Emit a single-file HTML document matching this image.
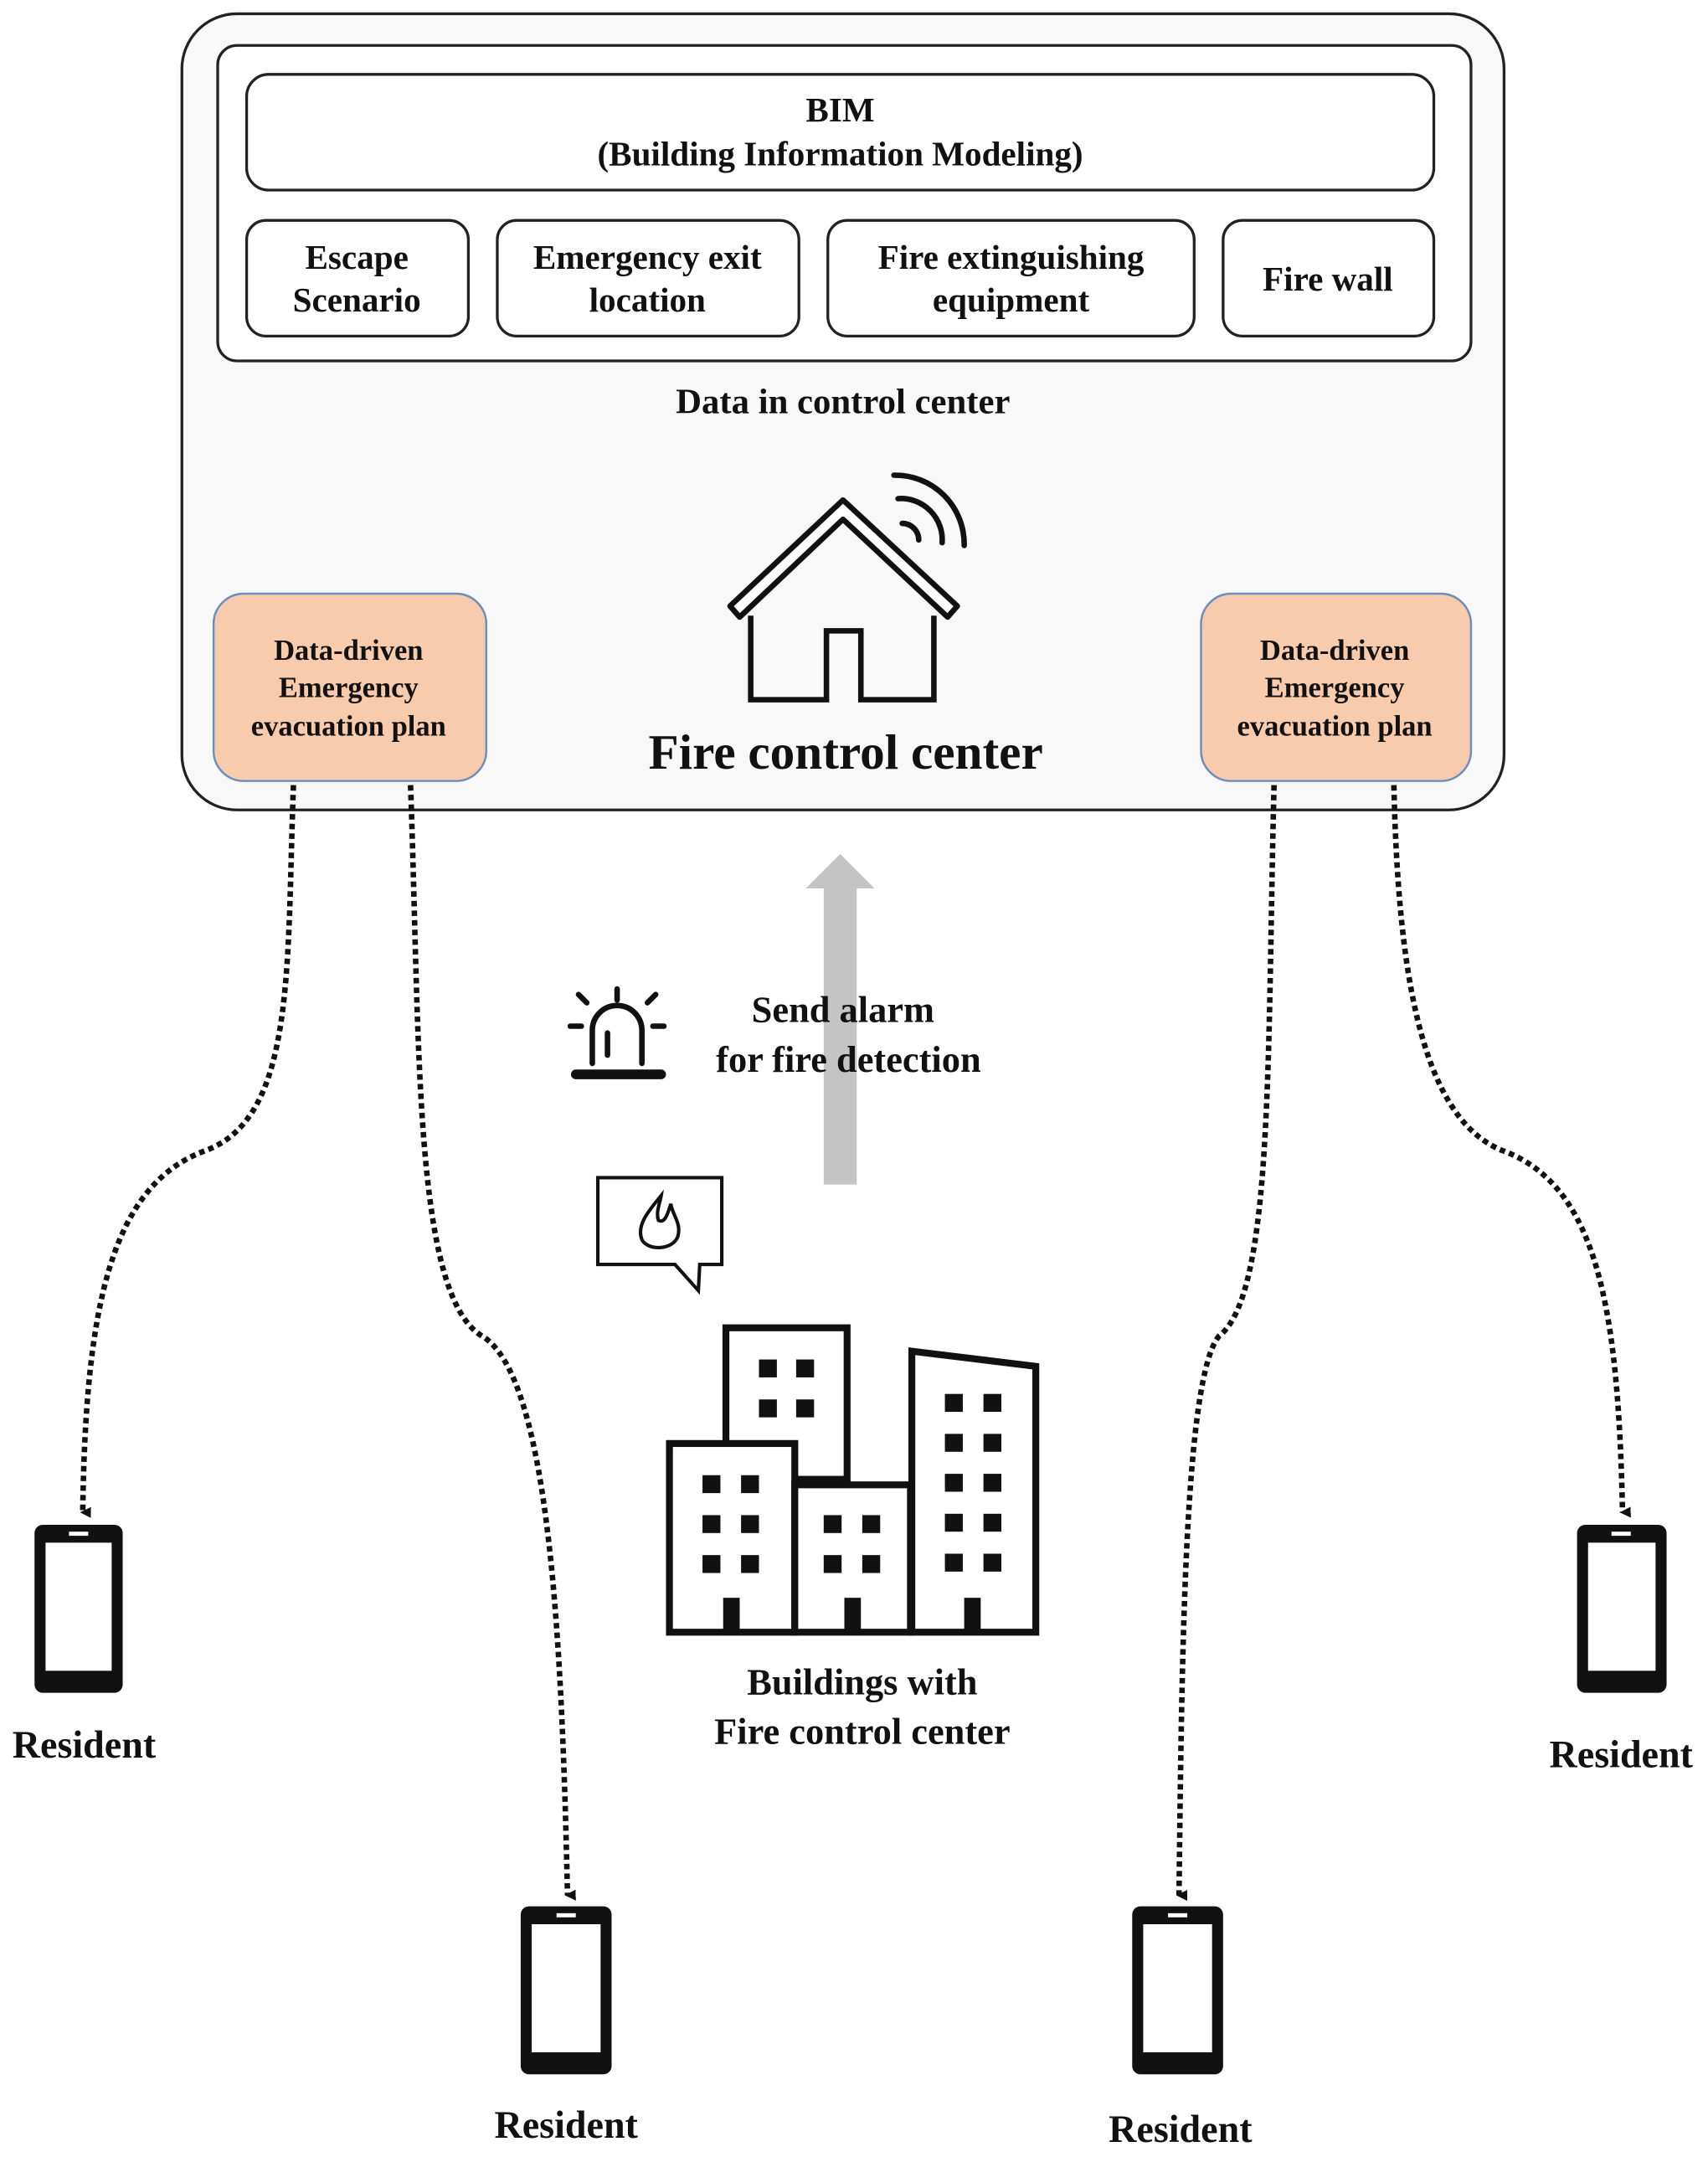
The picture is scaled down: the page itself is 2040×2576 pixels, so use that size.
<!DOCTYPE html>
<html><head><meta charset="utf-8"><style>
html,body{margin:0;padding:0;background:#fff;}
svg{display:block;}
text{font-family:"Liberation Serif",serif;font-weight:bold;fill:#111;}
</style></head><body>
<svg width="2040" height="2576" viewBox="0 0 1240 1566" xmlns="http://www.w3.org/2000/svg">
<defs>
<marker id="ah" markerWidth="8" markerHeight="8" refX="4" refY="6" orient="auto" markerUnits="userSpaceOnUse">
<path d="M0,0 L8,0 L4,8 z" fill="#111"/></marker>
</defs>
<!-- outer box -->
<rect x="132" y="10" width="960" height="578" rx="40" fill="#f8f8f8" stroke="#222" stroke-width="2"/>
<rect x="158" y="33" width="910" height="229" rx="14" fill="#fff" stroke="#222" stroke-width="2"/>
<rect x="179" y="54" width="862" height="84" rx="16" fill="#fff" stroke="#222" stroke-width="2"/>
<text x="610" y="88" font-size="25" text-anchor="middle">BIM</text>
<text x="610" y="120" font-size="25" text-anchor="middle">(Building Information Modeling)</text>
<rect x="179" y="160" width="161" height="84" rx="14" fill="#fff" stroke="#222" stroke-width="2"/>
<rect x="361" y="160" width="219" height="84" rx="14" fill="#fff" stroke="#222" stroke-width="2"/>
<rect x="601" y="160" width="266" height="84" rx="14" fill="#fff" stroke="#222" stroke-width="2"/>
<rect x="888" y="160" width="153" height="84" rx="14" fill="#fff" stroke="#222" stroke-width="2"/>
<g font-size="25" text-anchor="middle">
<text x="259" y="195">Escape</text><text x="259" y="226">Scenario</text>
<text x="470" y="195">Emergency exit</text><text x="470" y="226">location</text>
<text x="734" y="195">Fire extinguishing</text><text x="734" y="226">equipment</text>
<text x="964" y="211">Fire wall</text>
</g>
<text x="612" y="300" font-size="26" text-anchor="middle">Data in control center</text>
<!-- house -->
<path d="M530,440 L612,363 L695,440 L688,448 L612,377 L537,448 z" fill="#fff" stroke="#111" stroke-width="4" stroke-linejoin="round"/>
<path d="M545,447 L545,508 L600,508 L600,458 L625,458 L625,508 L678,508 L678,447" fill="none" stroke="#111" stroke-width="4"/>
<g fill="none" stroke="#111" stroke-width="4" stroke-linecap="round">
<path d="M655,380 A12,12 0 0 1 667,392"/>
<path d="M652,362 A30,30 0 0 1 684,394"/>
<path d="M649,345 A50,50 0 0 1 700,396"/>
</g>
<text x="614" y="558" font-size="36" text-anchor="middle">Fire control center</text>
<!-- orange boxes -->
<rect x="155" y="431" width="198" height="136" rx="22" fill="#f8cbad" stroke="#6c8ebf" stroke-width="1.5"/>
<rect x="872" y="431" width="196" height="136" rx="22" fill="#f8cbad" stroke="#6c8ebf" stroke-width="1.5"/>
<g font-size="21" text-anchor="middle">
<text x="253" y="479">Data-driven</text><text x="253" y="506">Emergency</text><text x="253" y="534">evacuation plan</text>
<text x="969" y="479">Data-driven</text><text x="969" y="506">Emergency</text><text x="969" y="534">evacuation plan</text>
</g>
<!-- dotted connectors -->
<g fill="none" stroke="#111" stroke-width="4" stroke-dasharray="4,3" marker-end="url(#ah)">
<path d="M213,570 C208,700 215,810 150,835 C80,860 62,950 60,1098"/>
<path d="M298,570 C305,760 300,940 350,970 C400,1000 408,1200 412,1376"/>
<path d="M925,570 C920,760 925,940 885,970 C860,1000 858,1200 856,1376"/>
<path d="M1012,570 C1015,700 1030,810 1090,835 C1160,860 1175,950 1178,1098"/>
</g>
<!-- gray arrow -->
<path d="M598,860 L598,645 L585,645 L610,620 L635,645 L622,645 L622,860 z" fill="#c4c4c4"/>
<!-- alarm -->
<g stroke="#111" stroke-width="4" fill="none" stroke-linecap="round">
<path d="M430,772 L430,748 A18,18 0 0 1 466,748 L466,772"/>
<line x1="418" y1="780" x2="480" y2="780" stroke-width="7"/>
<line x1="448" y1="718" x2="448" y2="726"/>
<line x1="420" y1="722" x2="426" y2="728"/>
<line x1="476" y1="722" x2="470" y2="728"/>
<line x1="414" y1="745" x2="422" y2="745"/>
<line x1="474" y1="745" x2="482" y2="745"/>
<line x1="441" y1="750" x2="441" y2="766"/>
</g>
<text x="612" y="742" font-size="27" text-anchor="middle">Send alarm</text>
<text x="616" y="778" font-size="27" text-anchor="middle">for fire detection</text>
<!-- speech bubble -->
<path d="M434,855 L524,855 L524,918 L508,918 L507,937 L490,918 L434,918 z" fill="#fff" stroke="#111" stroke-width="2.5"/>
<path d="M480,868 C470,880 462,890 466,900 C470,908 488,908 492,898 C495,888 488,882 487,874 C484,884 482,888 478,886 C476,880 479,874 480,868 z" fill="none" stroke="#111" stroke-width="2.5"/>
<!-- buildings -->
<g fill="#fff" stroke="#111" stroke-width="5">
<rect x="527" y="964" width="88" height="110"/>
<path d="M662,981 L752,992 L752,1185 L662,1185 z"/>
<rect x="486" y="1048" width="91" height="137"/>
<rect x="577" y="1078" width="84" height="107"/>
</g>
<g fill="#111">
<rect x="551" y="987" width="13" height="13"/><rect x="578" y="987" width="13" height="13"/>
<rect x="551" y="1016" width="13" height="13"/><rect x="578" y="1016" width="13" height="13"/>
<rect x="510" y="1071" width="13" height="13"/><rect x="538" y="1071" width="13" height="13"/>
<rect x="510" y="1100" width="13" height="13"/><rect x="538" y="1100" width="13" height="13"/>
<rect x="510" y="1129" width="13" height="13"/><rect x="538" y="1129" width="13" height="13"/>
<rect x="598" y="1100" width="13" height="13"/><rect x="626" y="1100" width="13" height="13"/>
<rect x="598" y="1129" width="13" height="13"/><rect x="626" y="1129" width="13" height="13"/>
<rect x="686" y="1012" width="13" height="13"/><rect x="714" y="1012" width="13" height="13"/>
<rect x="686" y="1041" width="13" height="13"/><rect x="714" y="1041" width="13" height="13"/>
<rect x="686" y="1070" width="13" height="13"/><rect x="714" y="1070" width="13" height="13"/>
<rect x="686" y="1099" width="13" height="13"/><rect x="714" y="1099" width="13" height="13"/>
<rect x="686" y="1128" width="13" height="13"/><rect x="714" y="1128" width="13" height="13"/>
<rect x="525" y="1160" width="12" height="25"/><rect x="613" y="1160" width="12" height="25"/><rect x="700" y="1160" width="12" height="25"/>
</g>
<text x="626" y="1230" font-size="27" text-anchor="middle">Buildings with</text>
<text x="626" y="1266" font-size="27" text-anchor="middle">Fire control center</text>
<!-- phones -->
<g>
<rect x="25" y="1107" width="64" height="122" rx="6" fill="#111"/><rect x="33" y="1120" width="48" height="93" fill="#fff"/><rect x="50" y="1112" width="14" height="3" fill="#fff"/>
<rect x="378" y="1384" width="66" height="122" rx="6" fill="#111"/><rect x="386" y="1397" width="50" height="93" fill="#fff"/><rect x="404" y="1389" width="14" height="3" fill="#fff"/>
<rect x="822" y="1384" width="66" height="122" rx="6" fill="#111"/><rect x="830" y="1397" width="50" height="93" fill="#fff"/><rect x="848" y="1389" width="14" height="3" fill="#fff"/>
<rect x="1145" y="1107" width="65" height="122" rx="6" fill="#111"/><rect x="1153" y="1120" width="49" height="93" fill="#fff"/><rect x="1170" y="1112" width="14" height="3" fill="#fff"/>
</g>
<g font-size="28" text-anchor="middle">
<text x="61" y="1276">Resident</text>
<text x="411" y="1552">Resident</text>
<text x="857" y="1555">Resident</text>
<text x="1177" y="1283">Resident</text>
</g>
</svg>
</body></html>
